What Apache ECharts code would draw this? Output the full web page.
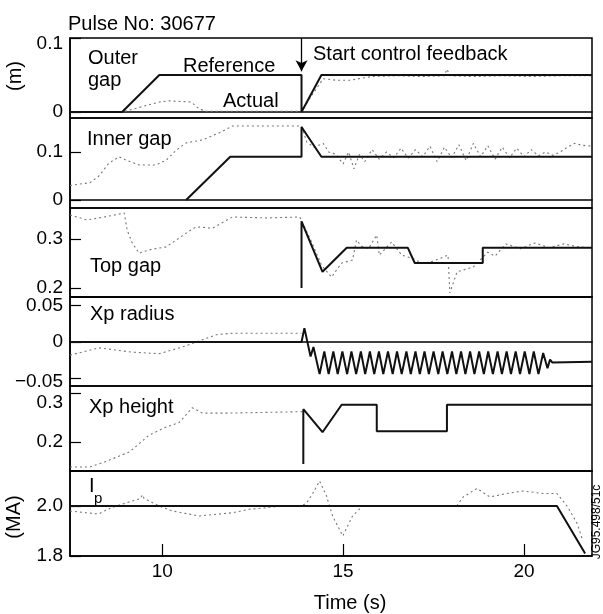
<!DOCTYPE html>
<html>
<head>
<meta charset="utf-8">
<script src="https://cdn.jsdelivr.net/npm/echarts@6/dist/echarts.min.js"></script>
<style>
html,body{margin:0;padding:0;background:#fff;}
#chartMain{width:603px;height:614px;}
</style>
</head>
<body>
<div id="chartMain"></div>
<script>
// time axis (s)
var tMin = 7.45, tMax = 21.88;
var timeTicks = [10, 15, 20];
var feedbackStart = 13.85;

// outer gap (m)
var outerRefT = [7.45, 8.89, 9.92, 13.85, 13.85, 14.4, 21.88];
var outerRefV = [0, 0, 0.05, 0.05, 0, 0.05, 0.05];
var outerActT = [7.45, 8.9, 9.5, 9.92, 10.2, 10.8, 11.0, 11.2, 13.85, 14.1, 14.45, 14.8, 15.2, 15.8, 16.5, 17.2, 17.8, 17.87, 17.95, 18.6, 19.4, 20.2, 21.0, 21.88];
var outerActV = [0, 0, 0.008, 0.0135, 0.015, 0.0135, 0.005, 0.001, 0.001, 0.02, 0.045, 0.043, 0.043, 0.048, 0.049, 0.048, 0.049, 0.058, 0.049, 0.048, 0.049, 0.048, 0.049, 0.049];
var outerTicks = [0, 0.1];

// inner gap (m)
var innerRefT = [10.66, 11.88, 13.85, 13.85, 14.4, 21.88];
var innerRefV = [0, 0.09, 0.09, 0.152, 0.09, 0.09];
var innerActT = [7.45, 7.7, 8.0, 8.25, 8.53, 8.81, 9.0, 9.36, 9.83, 10.11, 10.39, 10.66, 11.11, 11.58, 11.94, 13.85, 14.0, 14.2, 14.45, 14.6, 14.8, 15.0, 15.15, 15.3, 15.45, 15.6, 15.8, 16.0, 16.2, 16.4, 16.6, 16.8, 17.0, 17.2, 17.4, 17.6, 17.8, 18.0, 18.2, 18.4, 18.6, 18.8, 19.0, 19.2, 19.4, 19.6, 19.8, 20.0, 20.2, 20.4, 20.6, 20.8, 21.0, 21.2, 21.4, 21.6, 21.88];
var innerActV = [0.03, 0.033, 0.036, 0.05, 0.077, 0.09, 0.083, 0.073, 0.073, 0.083, 0.104, 0.119, 0.125, 0.14, 0.154, 0.154, 0.12, 0.11, 0.118, 0.1, 0.095, 0.075, 0.1, 0.065, 0.095, 0.08, 0.105, 0.085, 0.1, 0.088, 0.108, 0.087, 0.105, 0.09, 0.112, 0.08, 0.11, 0.088, 0.115, 0.082, 0.118, 0.09, 0.113, 0.085, 0.11, 0.088, 0.108, 0.09, 0.105, 0.092, 0.1, 0.093, 0.1, 0.11, 0.118, 0.114, 0.112];
var innerTicks = [0, 0.1];

// top gap (m)
var topRefT = [13.85, 13.85, 14.43, 15.1, 16.79, 16.98, 18.86, 18.86, 21.88];
var topRefV = [0.2, 0.336, 0.233, 0.282, 0.282, 0.251, 0.251, 0.282, 0.282];
var topActT = [7.45, 7.92, 8.4, 8.95, 9.03, 9.17, 9.36, 9.64, 10.11, 10.39, 10.66, 10.94, 11.39, 11.94, 12.88, 13.8, 14.13, 14.4, 14.68, 14.82, 14.96, 15.26, 15.37, 15.5, 15.7, 15.93, 16.0, 16.34, 16.62, 16.9, 17.2, 17.5, 17.9, 17.95, 18.15, 18.6, 19.0, 19.2, 19.5, 19.9, 20.3, 20.7, 21.1, 21.5, 21.88];
var topActV = [0.349, 0.339, 0.345, 0.353, 0.318, 0.292, 0.271, 0.278, 0.284, 0.298, 0.312, 0.325, 0.322, 0.345, 0.343, 0.345, 0.294, 0.247, 0.222, 0.237, 0.251, 0.257, 0.298, 0.286, 0.28, 0.308, 0.267, 0.294, 0.267, 0.261, 0.25, 0.255, 0.267, 0.19, 0.233, 0.243, 0.273, 0.265, 0.29, 0.28, 0.292, 0.282, 0.29, 0.284, 0.282];
var topTicks = [0.2, 0.3];

// Xp radius (m)
var radRefT = [7.45, 13.85, 13.93, 14.1, 14.18, 14.35, 14.48, 14.60, 14.73, 14.85, 14.98, 15.11, 15.23, 15.36, 15.49, 15.61, 15.74, 15.86, 15.99, 16.11, 16.24, 16.37, 16.49, 16.62, 16.75, 16.87, 17.00, 17.12, 17.25, 17.37, 17.50, 17.63, 17.75, 17.88, 18.01, 18.13, 18.26, 18.38, 18.51, 18.63, 18.76, 18.89, 19.01, 19.14, 19.27, 19.39, 19.52, 19.64, 19.77, 19.89, 20.02, 20.15, 20.27, 20.40, 20.53, 20.65, 20.72, 20.78, 21.88];
var radRefV = [0, 0, 0.019, -0.02, -0.007, -0.044, -0.013, -0.044, -0.013, -0.044, -0.013, -0.044, -0.013, -0.044, -0.013, -0.044, -0.013, -0.044, -0.013, -0.044, -0.013, -0.044, -0.013, -0.044, -0.013, -0.044, -0.013, -0.044, -0.013, -0.044, -0.013, -0.044, -0.013, -0.044, -0.013, -0.044, -0.013, -0.044, -0.013, -0.044, -0.013, -0.044, -0.013, -0.044, -0.013, -0.044, -0.013, -0.044, -0.013, -0.044, -0.013, -0.044, -0.013, -0.044, -0.015, -0.036, -0.024, -0.028, -0.027];
var radActT = [7.45, 8.25, 9.17, 9.92, 10.55, 10.94, 11.5, 11.94, 13.85];
var radActV = [-0.018, -0.008, -0.014, -0.016, -0.007, 0, 0.01, 0.012, 0.012];
var radTicks = [-0.05, 0, 0.05];

// Xp height (m)
var hgtRefT = [13.9, 13.9, 14.43, 14.96, 15.93, 15.93, 17.87, 17.87, 21.88];
var hgtRefV = [0.155, 0.267, 0.22, 0.276, 0.276, 0.222, 0.222, 0.276, 0.276];
var hgtActT = [7.45, 8.0, 8.4, 9.1, 9.64, 10.06, 10.47, 10.83, 11.11, 11.86, 13.9];
var hgtActV = [0.149, 0.149, 0.159, 0.18, 0.214, 0.229, 0.24, 0.27, 0.259, 0.259, 0.262];
var hgtTicks = [0.2, 0.3];

// plasma current Ip (MA)
var ipRefT = [7.45, 20.91, 21.69];
var ipRefV = [2.0, 2.0, 1.81];
var ipActT = [7.45, 7.89, 8.25, 8.45, 8.73, 9.17, 9.4, 9.45, 9.5, 9.92, 10.28, 11.02, 11.5, 11.94, 12.41, 12.88, 13.32, 13.85, 13.99, 14.16, 14.35, 14.54, 14.71, 14.99, 15.26, 15.54, 16.5, 17.5, 18.14, 18.31, 18.7, 19.06, 19.53, 19.97, 20.53, 20.91, 21.19, 21.47, 21.63];
var ipActV = [1.98, 1.973, 1.968, 1.984, 2.0, 2.02, 2.03, 2.045, 2.03, 2.0, 1.98, 1.96, 1.967, 1.973, 1.987, 1.993, 2.0, 2.0, 2.012, 2.05, 2.1, 2.04, 1.96, 1.88, 1.96, 2.0, 2.0, 2.0, 2.0, 2.035, 2.07, 2.036, 2.05, 2.06, 2.05, 2.05, 2.0, 1.93, 1.86];
var ipTicks = [1.8, 2.0];

var FONT = 'Liberation Sans, Arial, sans-serif';

function pairs(t, v) {
    return t.map(function (x, i) { return [x, v[i]]; });
}

var panels = [
    {top: 38,  height: 80, min: -0.0081, max: 0.1,    ticks: outerTicks, ref: pairs(outerRefT, outerRefV), act: pairs(outerActT, outerActV), fmt: function (v) { return v === 0.1 ? '{lo|0.1}' : '0'; }},
    {top: 118, height: 90, min: -0.0167, max: 0.1708, ticks: innerTicks, ref: pairs(innerRefT, innerRefV), act: pairs(innerActT, innerActV), fmt: function (v) { return v === 0 ? '0' : '0.1'; }},
    {top: 208, height: 89, min: 0.1816,  max: 0.3633, ticks: topTicks,   ref: pairs(topRefT, topRefV),     act: pairs(topActT, topActV),     fmt: function (v) { return v.toFixed(1); }},
    {top: 297, height: 89, min: -0.0603, max: 0.0616, ticks: radTicks,   ref: pairs(radRefT, radRefV),     act: pairs(radActT, radActV),     fmt: function (v) { return v === 0 ? '0' : (v < 0 ? '{dn|\u22120.05}' : '0.05'); }},
    {top: 386, height: 85, min: 0.1408,  max: 0.3143, ticks: hgtTicks,   ref: pairs(hgtRefT, hgtRefV),     act: pairs(hgtActT, hgtActV),     fmt: function (v) { return v > 0.25 ? '{lo2|0.3}' : '0.2'; }},
    {top: 471, height: 85, min: 1.8,     max: 2.14,   ticks: ipTicks,    ref: pairs(ipRefT, ipRefV),       act: pairs(ipActT, ipActV),       fmt: function (v) { return v.toFixed(1); }}
];

var grid = [], xAxis = [], yAxis = [], series = [];
panels.forEach(function (p, i) {
    var last = i === panels.length - 1;
    grid.push({left: 70, right: 11, top: p.top, height: p.height, show: true, borderColor: '#000', borderWidth: 1.5, backgroundColor: 'transparent'});
    xAxis.push({
        type: 'value', gridIndex: i, min: tMin, max: tMax,
        axisLine: {show: true, lineStyle: {color: '#000', width: 1.5}},
        axisTick: {show: last, inside: true, length: 12, customValues: timeTicks, lineStyle: {color: '#000', width: 1.2}},
        axisLabel: {show: last, customValues: timeTicks, margin: 6, color: '#000', fontSize: 19, fontFamily: FONT},
        splitLine: {show: false}
    });
    yAxis.push({
        type: 'value', gridIndex: i, min: p.min, max: p.max,
        axisLine: {show: true, lineStyle: {color: '#000', width: 1.5}},
        axisTick: {show: true, inside: true, length: 11, customValues: p.ticks, lineStyle: {color: '#000', width: 1.2}},
        axisLabel: {
            customValues: p.ticks, margin: 7, color: '#000', fontSize: 19, fontFamily: FONT,
            formatter: p.fmt,
            rich: {
                lo: {fontSize: 19, fontFamily: FONT, color: '#000', padding: [12, 0, 0, 0]},
                lo2: {fontSize: 19, fontFamily: FONT, color: '#000', padding: [20, 0, 0, 0]},
                dn: {fontSize: 19, fontFamily: FONT, color: '#000', padding: [6, 0, 0, 0]}
            }
        },
        splitLine: {show: false}
    });
    series.push({
        type: 'line', xAxisIndex: i, yAxisIndex: i, data: p.act, symbol: 'none', z: 2,
        lineStyle: {color: '#777', width: 1.1, type: [2, 3]}, animation: false
    });
    var ref = {
        type: 'line', xAxisIndex: i, yAxisIndex: i, data: p.ref, symbol: 'none', z: 3,
        lineStyle: {color: '#111', width: 2}, animation: false
    };
    if (i === 0) {
        ref.markLine = {
            silent: true, symbol: ['none', 'arrow'], symbolSize: [9, 11], animation: false,
            lineStyle: {color: '#000', width: 1.3, type: 'solid'}, label: {show: false},
            data: [[{coord: [feedbackStart, 0.1]}, {coord: [feedbackStart, 0.055]}]]
        };
    }
    series.push(ref);
});

function txt(x, y, s, size) {
    return {type: 'text', x: x, y: y, z: 10,
        style: {text: s, x: 0, y: 0, align: 'left', verticalAlign: 'middle', fill: '#000', font: (size || 20) + 'px ' + FONT}};
}

function vtxt(x, y, s, size) {
    return {type: 'text', x: x, y: y, z: 10, rotation: Math.PI / 2,
        style: {text: s, x: 0, y: 0, align: 'center', verticalAlign: 'middle', fill: '#000', font: (size || 20) + 'px ' + FONT}};
}

var graphic = [
    txt(68, 24, 'Pulse No: 30677'),
    txt(88, 58, 'Outer'),
    txt(88, 80, 'gap'),
    txt(183, 66, 'Reference'),
    txt(223, 101, 'Actual'),
    txt(313, 54, 'Start control feedback'),
    txt(87, 139, 'Inner gap'),
    txt(90, 266, 'Top gap'),
    txt(90, 314, 'Xp radius'),
    txt(89, 407, 'Xp height'),
    txt(89, 486, 'I'),
    txt(94, 499, 'p', 15),
    vtxt(15, 76, '(m)'),
    vtxt(14, 517, '(MA)'),
    {type: 'text', x: 350, y: 603, style: {text: 'Time (s)', x: 0, y: 0, align: 'center', verticalAlign: 'middle', fill: '#000', font: '20px ' + FONT}},
    vtxt(597, 522, 'JG95.498/51c', 12)
];

var myChart = echarts.init(document.getElementById('chartMain'));
myChart.setOption({
    animation: false,
    backgroundColor: '#fff',
    grid: grid,
    xAxis: xAxis,
    yAxis: yAxis,
    series: series,
    graphic: graphic
});
</script>
</body>
</html>
